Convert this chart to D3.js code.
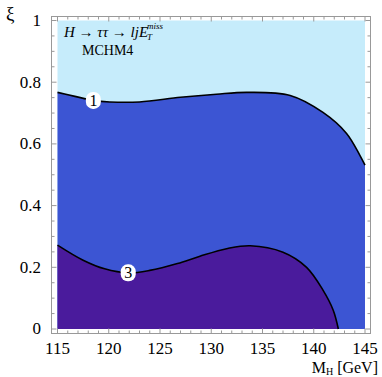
<!DOCTYPE html>
<html>
<head>
<meta charset="utf-8">
<script src="https://cdn.jsdelivr.net/npm/d3@7"></script>
<style>
  body{margin:0;background:#fff;}
  svg{display:block;}
  text{font-family:"Liberation Serif","DejaVu Serif",serif;}
</style>
</head>
<body>
<div id="chart"></div>
<script>
// tick labels
const massTicks=[115,120,125,130,135,140,145];
const xiTicks=[0,0.2,0.4,0.6,0.8,1];

// contour "1"
const contour1Mass=[115,116.7,118.5,120.1,123.0,127.0,130.5,133.5,137.7,140.9,143.2,144.5,145];
const contour1Xi=[0.767,0.754,0.741,0.736,0.736,0.751,0.761,0.767,0.757,0.702,0.634,0.563,0.531];

// contour "3"
const contour3Mass=[115,117.5,119.6,121.9,124.0,126.7,128.9,131.6,133.8,137.0,139.3,140.9,141.9,142.4];
const contour3Xi=[0.272,0.223,0.195,0.182,0.19,0.212,0.236,0.261,0.27,0.249,0.2,0.126,0.061,0];

const labels=[{text:"1",m:118.5,xi:0.741},{text:"3",m:121.9,xi:0.182}];

const W=382,H=377;
const svg=d3.select("#chart").append("svg").attr("width",W).attr("height",H);

const x=d3.scaleLinear().domain([115,145]).range([57.5,365]);
const y=d3.scaleLinear().domain([0,1]).range([329,20.5]);

const c1=contour1Mass.map((m,i)=>[m,contour1Xi[i]]);
const c3=contour3Mass.map((m,i)=>[m,contour3Xi[i]]);

// background region
svg.append("rect")
  .attr("x",x(115)).attr("y",y(1))
  .attr("width",x(145)-x(115)).attr("height",y(0)-y(1))
  .attr("fill","#c6ecfb");

const area=d3.area().x(d=>x(d[0])).y0(y(0)).y1(d=>y(d[1])).curve(d3.curveCatmullRom);
const line=d3.line().x(d=>x(d[0])).y(d=>y(d[1])).curve(d3.curveCatmullRom);

svg.append("path").datum(c1).attr("d",area).attr("fill","#3c55d3");
svg.append("path").datum(c3).attr("d",area).attr("fill","#4a1b9c");

svg.append("path").datum(c1).attr("d",line).attr("fill","none").attr("stroke","#000").attr("stroke-width",1.6);
svg.append("path").datum(c3).attr("d",line).attr("fill","none").attr("stroke","#000").attr("stroke-width",1.6);

// contour labels
const lab=svg.append("g").selectAll("g").data(labels).enter().append("g")
  .attr("transform",d=>"translate("+x(d.m)+","+y(d.xi)+")");
lab.append("rect").attr("x",-7.5).attr("y",-8.5).attr("width",15).attr("height",17)
  .attr("rx",7).attr("fill","#fff");
lab.append("text").text(d=>d.text).attr("text-anchor","middle").attr("dy","0.35em")
  .attr("font-size",16).attr("fill","#000");

// frame
const fx0=51.5,fx1=370.5,fy0=16.5,fy1=333.5;
const frame=svg.append("g").attr("stroke","#999").attr("fill","none");
frame.append("rect").attr("x",fx0).attr("y",fy0).attr("width",fx1-fx0).attr("height",fy1-fy0).attr("stroke-width",1);

// x ticks
const xMinor=d3.range(115,145.01,1);
xMinor.forEach(v=>{
  const major=massTicks.includes(v);
  const len=major?5:3;
  frame.append("line").attr("x1",x(v)).attr("x2",x(v)).attr("y1",fy1).attr("y2",fy1-len);
  frame.append("line").attr("x1",x(v)).attr("x2",x(v)).attr("y1",fy0).attr("y2",fy0+len);
});
const yMinor=d3.range(0,1.001,0.05);
yMinor.forEach(v=>{
  const major=xiTicks.some(t=>Math.abs(t-v)<1e-6);
  const len=major?5:3;
  frame.append("line").attr("y1",y(v)).attr("y2",y(v)).attr("x1",fx0).attr("x2",fx0+len);
  frame.append("line").attr("y1",y(v)).attr("y2",y(v)).attr("x1",fx1).attr("x2",fx1-len);
});

// tick labels
svg.append("g").selectAll("text").data(massTicks).enter().append("text")
  .attr("x",d=>x(d)).attr("y",354).attr("text-anchor","middle")
  .attr("font-size",17).text(d=>d);
svg.append("g").selectAll("text").data(xiTicks).enter().append("text")
  .attr("x",41).attr("y",d=>y(d)).attr("dy","0.32em").attr("text-anchor","end")
  .attr("font-size",17).text(d=>d);

// axis titles
svg.append("text").attr("x",6).attr("y",20).attr("font-size",19).text("ξ");
const xt=svg.append("text").attr("x",378).attr("y",373).attr("text-anchor","end").attr("font-size",16);
xt.append("tspan").text("M");
xt.append("tspan").attr("font-size",10).attr("dy",2).text("H");
xt.append("tspan").attr("dy",-2).text(" [GeV]");

// annotation
const ann=svg.append("text").attr("x",64).attr("y",37).attr("font-size",15).attr("font-style","italic");
ann.append("tspan").text("H → ττ → ljE");
ann.append("tspan").attr("font-size",9).attr("dy",3).attr("dx",-1).text("T");
ann.append("tspan").attr("font-size",9).attr("dy",-11).attr("dx",-5).text("miss");
svg.append("text").attr("x",82).attr("y",55).attr("font-size",14).text("MCHM4");
</script>
</body>
</html>
